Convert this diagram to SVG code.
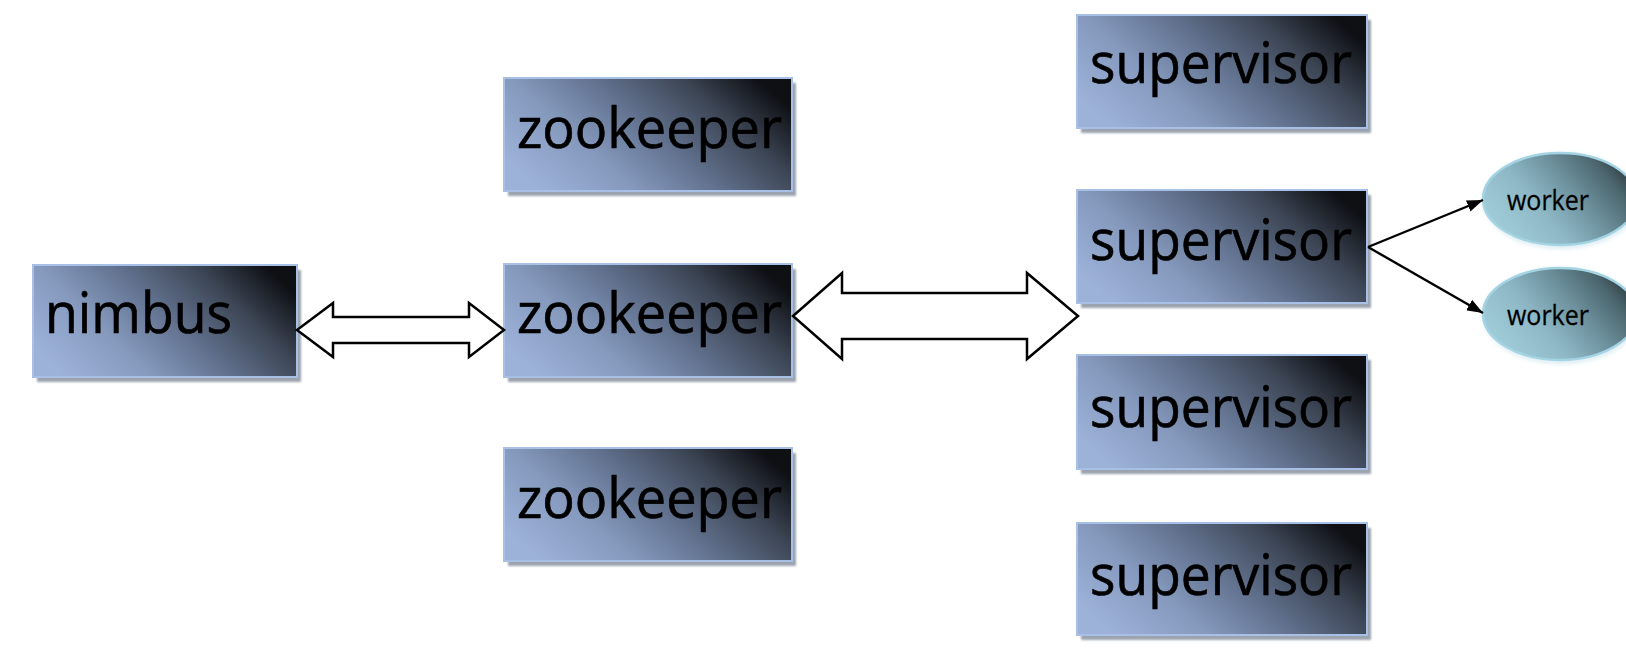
<svg xmlns="http://www.w3.org/2000/svg" width="1626" height="650" viewBox="0 0 1626 650">
  <style>
    .box { fill: url(#boxGrad); stroke: #a9c0e6; stroke-width: 2; }
    .shadow { fill: #8a93a0; opacity: 0.85; filter: url(#blur); }
    .ell { fill: url(#ellGrad); stroke: #a4d4e3; stroke-width: 2.5; }
    .big { font-family: "Open Sans", "Noto Sans", "DejaVu Sans", sans-serif; font-size: 57px; fill: #000; stroke: #000; stroke-width: 0.7; }
    .small { font-family: "Open Sans", "Noto Sans", "DejaVu Sans", sans-serif; font-size: 28px; fill: #000; stroke: #000; stroke-width: 0.3; }
    .dbl { fill: #fff; stroke: #000; stroke-width: 2.5; stroke-linejoin: miter; }
    .line { stroke: #000; stroke-width: 2.4; fill: none; marker-end: url(#head); }
  </style>
  <defs>
    <linearGradient id="boxGrad" x1="0" y1="0.72" x2="1" y2="0.28">
      <stop offset="0" stop-color="#9db2d9"/>
      <stop offset="0.28" stop-color="#8599bd"/>
      <stop offset="0.52" stop-color="#62728f"/>
      <stop offset="0.78" stop-color="#3c4554"/>
      <stop offset="1" stop-color="#0e1014"/>
    </linearGradient>
    <linearGradient id="ellGrad" x1="0" y1="0.75" x2="1" y2="0.25">
      <stop offset="0" stop-color="#a2cfdd"/>
      <stop offset="0.35" stop-color="#8fb8c6"/>
      <stop offset="0.6" stop-color="#6e939f"/>
      <stop offset="0.85" stop-color="#4a646c"/>
      <stop offset="1" stop-color="#2c363b"/>
    </linearGradient>
    <filter id="blur" x="-5%" y="-5%" width="110%" height="110%">
      <feGaussianBlur stdDeviation="1.2"/>
    </filter>
    <filter id="glow" x="-10%" y="-10%" width="120%" height="120%">
      <feGaussianBlur stdDeviation="2"/>
    </filter>
    <marker id="head" viewBox="0 0 16 12" refX="16" refY="6" markerWidth="16" markerHeight="12" markerUnits="userSpaceOnUse" orient="auto">
      <path d="M0,0 L16,6 L0,12 Z" fill="#000"/>
    </marker>
  </defs>

  <g id="nimbus">
    <rect class="shadow" x="37" y="270" width="264" height="112"/>
    <rect class="box" x="33" y="265" width="264" height="112"/>
    <text class="big" x="45" y="333" textLength="187" lengthAdjust="spacingAndGlyphs">nimbus</text>
  </g>

  <g id="zookeeper1">
    <rect class="shadow" x="508" y="83" width="288" height="113"/>
    <rect class="box" x="504" y="78" width="288" height="113"/>
    <text class="big" x="649.5" y="148" text-anchor="middle" textLength="265" lengthAdjust="spacingAndGlyphs">zookeeper</text>
  </g>
  <g id="zookeeper2">
    <rect class="shadow" x="508" y="269" width="288" height="113"/>
    <rect class="box" x="504" y="264" width="288" height="113"/>
    <text class="big" x="649.5" y="333" text-anchor="middle" textLength="265" lengthAdjust="spacingAndGlyphs">zookeeper</text>
  </g>
  <g id="zookeeper3">
    <rect class="shadow" x="508" y="453" width="288" height="113"/>
    <rect class="box" x="504" y="448" width="288" height="113"/>
    <text class="big" x="649.5" y="518" text-anchor="middle" textLength="265" lengthAdjust="spacingAndGlyphs">zookeeper</text>
  </g>

  <g id="supervisor1">
    <rect class="shadow" x="1081" y="20" width="290" height="113"/>
    <rect class="box" x="1077" y="15" width="290" height="113"/>
    <text class="big" x="1221" y="83" text-anchor="middle" textLength="262" lengthAdjust="spacingAndGlyphs">supervisor</text>
  </g>
  <g id="supervisor2">
    <rect class="shadow" x="1081" y="195" width="290" height="113"/>
    <rect class="box" x="1077" y="190" width="290" height="113"/>
    <text class="big" x="1221" y="260" text-anchor="middle" textLength="262" lengthAdjust="spacingAndGlyphs">supervisor</text>
  </g>
  <g id="supervisor3">
    <rect class="shadow" x="1081" y="360" width="290" height="114"/>
    <rect class="box" x="1077" y="355" width="290" height="114"/>
    <text class="big" x="1221" y="427" text-anchor="middle" textLength="262" lengthAdjust="spacingAndGlyphs">supervisor</text>
  </g>
  <g id="supervisor4">
    <rect class="shadow" x="1081" y="528" width="290" height="112"/>
    <rect class="box" x="1077" y="523" width="290" height="112"/>
    <text class="big" x="1221" y="595" text-anchor="middle" textLength="262" lengthAdjust="spacingAndGlyphs">supervisor</text>
  </g>

  <g id="worker1">
    <ellipse cx="1561" cy="201" rx="78" ry="48" fill="#cfe6ee" opacity="0.7" filter="url(#glow)"/>
    <ellipse class="ell" cx="1560" cy="199" rx="77" ry="46"/>
    <text class="small" x="1507" y="210" textLength="82" lengthAdjust="spacingAndGlyphs">worker</text>
  </g>
  <g id="worker2">
    <ellipse cx="1561" cy="316" rx="78" ry="48" fill="#cfe6ee" opacity="0.7" filter="url(#glow)"/>
    <ellipse class="ell" cx="1560" cy="314" rx="77" ry="46"/>
    <text class="small" x="1507" y="325" textLength="82" lengthAdjust="spacingAndGlyphs">worker</text>
  </g>

  <g id="connectors">
    <polygon class="dbl" points="297,330 333,303 333,317 469,317 469,303 504,330 469,357 469,343 333,343 333,357"/>
    <polygon class="dbl" points="793,316 842,273 842,293 1027,293 1027,273 1078,316 1027,359 1027,339 842,339 842,359"/>
    <line class="line" x1="1368" y1="247" x2="1483" y2="200"/>
    <line class="line" x1="1368" y1="247" x2="1483" y2="313"/>
  </g>
</svg>
